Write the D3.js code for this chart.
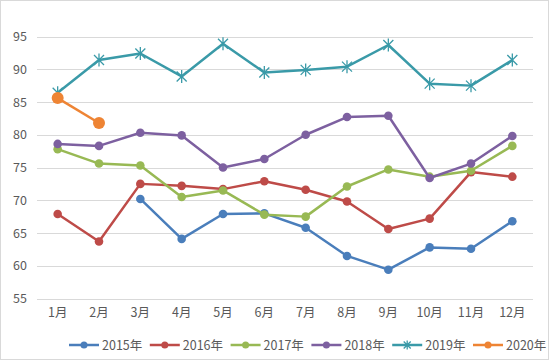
<!DOCTYPE html>
<meta charset="utf-8" />
<script src="https://d3js.org/d3.v7.min.js"></script>
<style>
  body { margin: 0; background: #fff; }
  text { font-family: "Noto Sans CJK SC", "Liberation Sans", sans-serif; }
</style>
<body>
  <div id="my_dataviz"></div>
</body>
<script>
  // months on the x axis
  var months = ["1月", "2月", "3月", "4月", "5月", "6月", "7月", "8月", "9月", "10月", "11月", "12月"];
  var yTicks = [55, 60, 65, 70, 75, 80, 85, 90, 95];

  // one array per year, null = no value
  var y2015 = [null, null, 70.2, 64.1, 67.9, 68.0, 65.8, 61.5, 59.4, 62.8, 62.6, 66.8];
  var y2016 = [67.9, 63.7, 72.5, 72.2, 71.7, 72.9, 71.6, 69.8, 65.6, 67.2, 74.3, 73.6];
  var y2017 = [77.8, 75.6, 75.3, 70.5, 71.5, 67.8, 67.5, 72.1, 74.7, 73.6, 74.5, 78.3];
  var y2018 = [78.6, 78.3, 80.3, 79.9, 75.0, 76.3, 80.0, 82.7, 82.9, 73.4, 75.6, 79.8];
  var y2019 = [86.4, 91.4, 92.4, 88.9, 93.9, 89.5, 89.9, 90.4, 93.7, 87.8, 87.5, 91.4];
  var y2020 = [85.6, 81.8];

  var seriesNames = ["2015年", "2016年", "2017年", "2018年", "2019年", "2020年"];
  var seriesValues = [y2015, y2016, y2017, y2018, y2019, y2020];
  var colors = ["#4a7ebb", "#be4b48", "#98b954", "#7d60a0", "#3a9aa8", "#ee8434"];

  var width = 550, height = 361;
  var svg = d3.select("#my_dataviz")
    .append("svg")
    .attr("width", width)
    .attr("height", height);

  // outer frame
  svg.append("rect")
    .attr("x", 0.5).attr("y", 0.5)
    .attr("width", 548).attr("height", 359)
    .attr("fill", "#fff")
    .attr("stroke", "#d9d9d9");

  var x = d3.scaleBand().domain(months).range([37, 533]);
  var y = d3.scaleLinear().domain([55, 95]).range([298.5, 36.5]);

  // gridlines
  svg.append("g")
    .selectAll("line")
    .data(yTicks)
    .enter()
    .append("line")
    .attr("x1", 37).attr("x2", 533)
    .attr("y1", function (d) { return Math.round(y(d)) + 0.5; })
    .attr("y2", function (d) { return Math.round(y(d)) + 0.5; })
    .attr("stroke", "#d9d9d9")
    .attr("stroke-width", 1);

  // y axis labels
  var yAxis = svg.append("g")
    .attr("transform", "translate(37,0)")
    .call(d3.axisLeft(y).tickValues(yTicks).tickSize(0).tickPadding(10));
  yAxis.select(".domain").remove();
  yAxis.selectAll("text")
    .attr("fill", "#595959")
    .style("font-size", "12.5px");

  // x axis labels
  var xAxis = svg.append("g")
    .attr("transform", "translate(0,298.5)")
    .call(d3.axisBottom(x).tickSize(0).tickPadding(10));
  xAxis.select(".domain").remove();
  xAxis.selectAll("text")
    .attr("fill", "#595959")
    .style("font-size", "12.5px");

  var line = d3.line()
    .defined(function (d) { return d != null; })
    .x(function (d, i) { return x(months[i]) + x.bandwidth() / 2; })
    .y(function (d) { return y(d); });

  function star(g, cx, cy, s, color) {
    g.append("path")
      .attr("d", "M" + (cx - s) + "," + (cy - s) + "L" + (cx + s) + "," + (cy + s) +
        "M" + (cx - s) + "," + (cy + s) + "L" + (cx + s) + "," + (cy - s) +
        "M" + cx + "," + (cy - s * 1.3) + "L" + cx + "," + (cy + s * 1.3))
      .attr("stroke", color)
      .attr("stroke-width", 1.3)
      .attr("fill", "none");
  }

  seriesValues.forEach(function (vals, k) {
    var g = svg.append("g");
    g.append("path")
      .datum(vals)
      .attr("d", line)
      .attr("fill", "none")
      .attr("stroke", colors[k])
      .attr("stroke-width", 2.5)
      .attr("stroke-linejoin", "round");
    vals.forEach(function (v, i) {
      if (v == null) return;
      var cx = x(months[i]) + x.bandwidth() / 2, cy = y(v);
      if (k == 4) {
        star(g, cx, cy, 5, colors[k]);
      } else {
        g.append("circle")
          .attr("cx", cx).attr("cy", cy)
          .attr("r", k == 5 ? 6 : 4.3)
          .attr("fill", colors[k]);
      }
    });
  });

  // legend
  var legend = svg.append("g");
  seriesNames.forEach(function (name, k) {
    var lx = 69 + k * 80.8, ly = 345;
    legend.append("line")
      .attr("x1", lx).attr("x2", lx + 30)
      .attr("y1", ly).attr("y2", ly)
      .attr("stroke", colors[k])
      .attr("stroke-width", 2.5);
    if (k == 4) {
      star(legend, lx + 15, ly, 3.5, colors[k]);
    } else {
      legend.append("circle")
        .attr("cx", lx + 15).attr("cy", ly)
        .attr("r", 3.5)
        .attr("fill", colors[k]);
    }
    legend.append("text")
      .attr("x", lx + 33).attr("y", ly + 4.5)
      .attr("fill", "#595959")
      .style("font-size", "12.5px")
      .text(name);
  });
</script>
